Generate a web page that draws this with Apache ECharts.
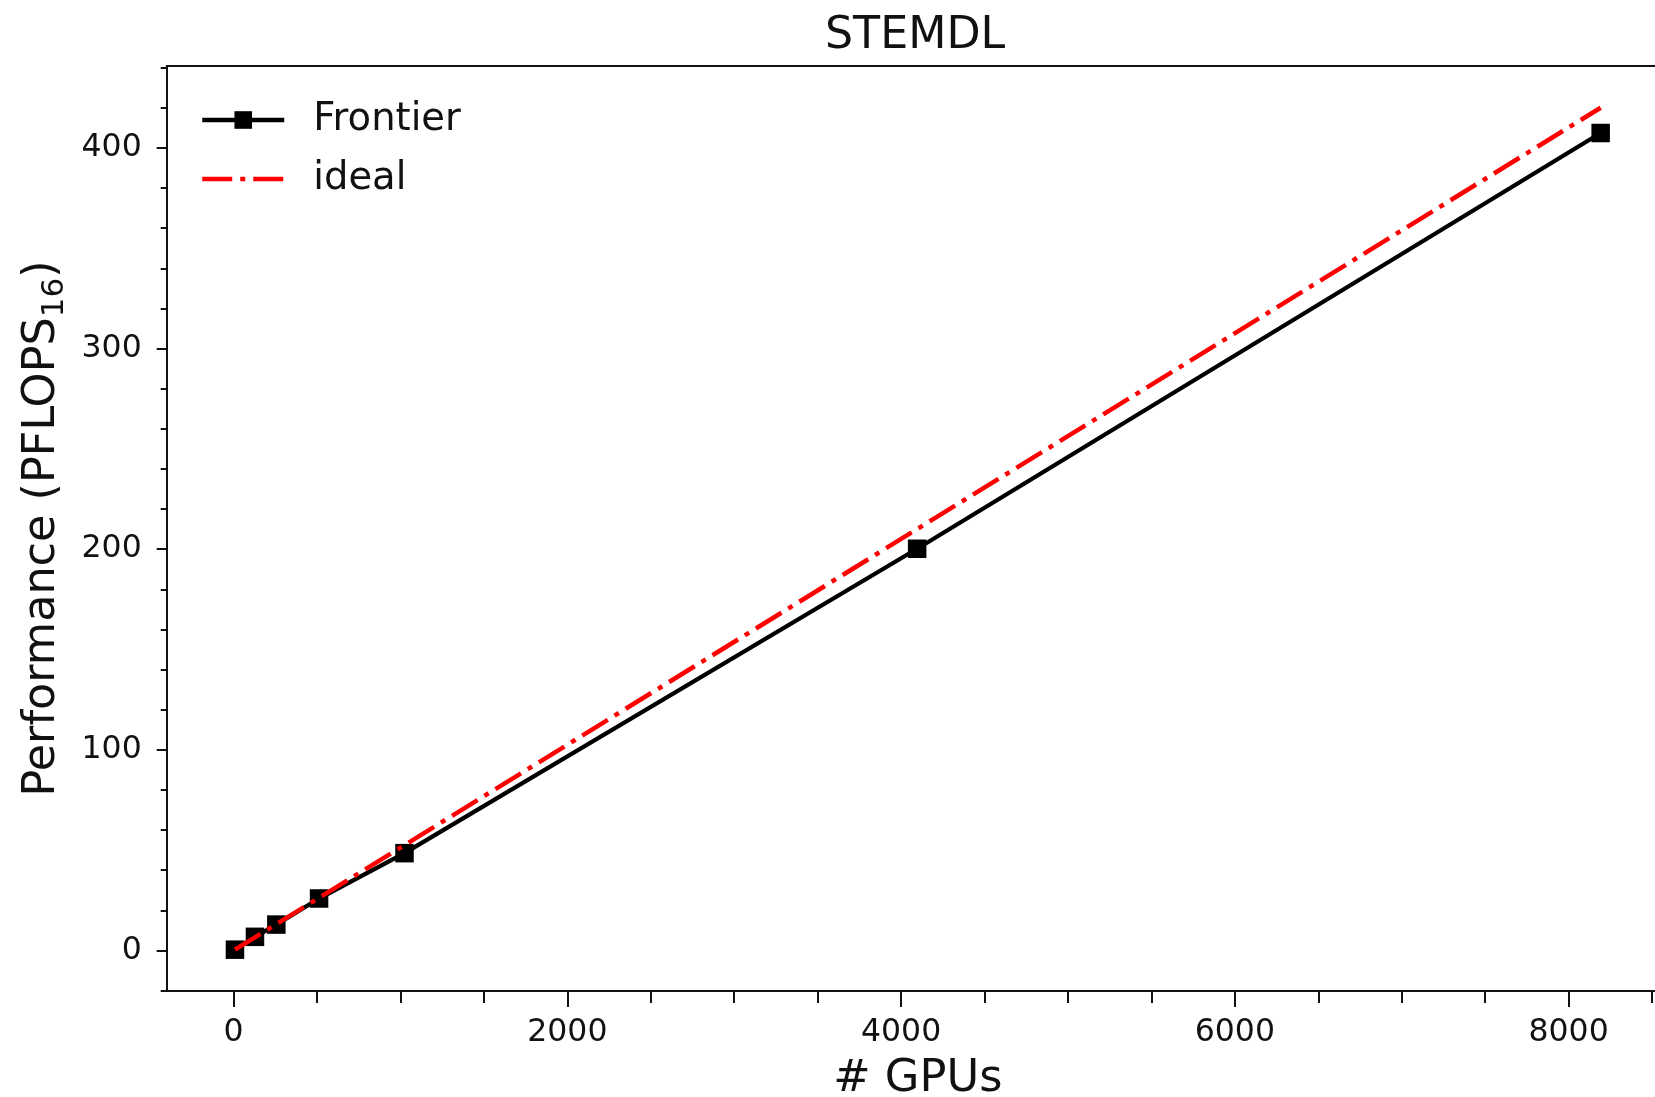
<!DOCTYPE html>
<html>
<head>
<meta charset="utf-8">
<script src="https://cdn.jsdelivr.net/npm/echarts@6/dist/echarts.min.js"></script>
<style>
html,body{margin:0;padding:0;background:#fff;}
#chart{width:1655px;height:1097px;}
</style>
</head>
<body>
<div id="chart"></div>
<script>
// ---- data ----
const gpus = [8, 128, 256, 512, 1024, 4096, 8192];
const frontier = [0.4, 6.8, 12.9, 25.9, 48.5, 200.2, 407.4];
const ideal = [0.41, 6.56, 13.13, 26.25, 52.5, 210, 420];
const xMajorTicks = [0, 2000, 4000, 6000, 8000];
const xMinorTicks = [500, 1000, 1500, 2500, 3000, 3500, 4500, 5000, 5500, 6500, 7000, 7500, 8500];
const yMajorTicks = [0, 100, 200, 300, 400];
const yMinorTicks = [-20, 20, 40, 60, 80, 120, 140, 160, 180, 220, 240, 260, 280, 320, 340, 360, 380, 420, 440];

const FONT = 'DejaVu Sans';
const INK = '#111';
const X_MIN = -401, X_MAX = 8601, Y_MIN = -20.2, Y_MAX = 440.8;
const IDEAL_DASH = [30, 8, 5, 8];

const chart = echarts.init(document.getElementById('chart'), null, {renderer: 'canvas'});

const plain = v => String(v);

const option = {
  animation: false,
  backgroundColor: '#fff',
  title: {
    text: 'STEMDL',
    left: 825, top: 14, padding: 0,
    textStyle: {fontFamily: FONT, fontSize: 44.3, fontWeight: 'normal', color: INK}
  },
  legend: {
    orient: 'vertical',
    left: 200, top: 100, padding: 0,
    itemWidth: 82, itemHeight: 22, itemGap: 19,
    data: [
      {name: 'Frontier', lineStyle: {color: '#000', width: 4.3}, itemStyle: {color: '#000'}},
      {name: 'ideal', lineStyle: {color: '#ff0000', width: 4.5, type: IDEAL_DASH}, itemStyle: {color: '#ff0000', opacity: 0}}
    ],
    textStyle: {fontFamily: FONT, fontSize: 38.5, color: INK, lineHeight: 40, padding: [0, 0, 0, 24]}
  },
  grid: {left: 166.7, top: 66, width: 1502.2, height: 925, containLabel: false, outerBoundsMode: 'none'},
  xAxis: [
    {
      type: 'value', min: X_MIN, max: X_MAX, position: 'bottom',
      name: '# GPUs', nameLocation: 'middle', nameGap: 66,
      nameTextStyle: {fontFamily: FONT, fontSize: 44.7, color: INK},
      splitLine: {show: false},
      axisLine: {show: true, onZero: false, lineStyle: {color: INK, width: 2}},
      axisTick: {show: true, length: 16, lineStyle: {color: INK, width: 2}, customValues: xMajorTicks},
      axisLabel: {show: true, fontFamily: FONT, fontSize: 31.5, color: INK, margin: 26, customValues: xMajorTicks, formatter: plain}
    },
    {
      type: 'value', min: X_MIN, max: X_MAX, position: 'bottom',
      splitLine: {show: false},
      axisLine: {show: false, onZero: false},
      axisTick: {show: true, length: 12, lineStyle: {color: INK, width: 2}, customValues: xMinorTicks},
      axisLabel: {show: false, customValues: xMinorTicks}
    },
    {
      type: 'value', min: X_MIN, max: X_MAX, position: 'top',
      splitLine: {show: false}, axisTick: {show: false}, axisLabel: {show: false},
      axisLine: {show: true, onZero: false, lineStyle: {color: INK, width: 2}}
    }
  ],
  yAxis: [
    {
      type: 'value', min: Y_MIN, max: Y_MAX, position: 'left',
      name: 'Performance (PFLOPS{sub|16})', nameLocation: 'middle', nameGap: 93, nameRotate: 90,
      nameTextStyle: {
        fontFamily: FONT, fontSize: 44.5, color: INK, lineHeight: 57,
        rich: {sub: {fontFamily: FONT, fontSize: 31, color: INK, lineHeight: 34, verticalAlign: 'bottom'}}
      },
      splitLine: {show: false},
      axisLine: {show: true, onZero: false, lineStyle: {color: INK, width: 2}},
      axisTick: {show: true, length: 10, lineStyle: {color: INK, width: 2}, customValues: yMajorTicks},
      axisLabel: {show: true, fontFamily: FONT, fontSize: 31.5, color: INK, margin: 25, customValues: yMajorTicks, formatter: plain}
    },
    {
      type: 'value', min: Y_MIN, max: Y_MAX, position: 'left',
      splitLine: {show: false},
      axisLine: {show: false, onZero: false},
      axisTick: {show: true, length: 6, lineStyle: {color: INK, width: 2}, customValues: yMinorTicks},
      axisLabel: {show: false, customValues: yMinorTicks}
    }
  ],
  series: [
    {
      name: 'Frontier', type: 'line', xAxisIndex: 0, yAxisIndex: 0,
      data: gpus.map((g, i) => [g, frontier[i]]),
      symbol: 'rect', symbolSize: 18.5, showSymbol: true,
      itemStyle: {color: '#000'},
      lineStyle: {color: '#000', width: 4.3},
      z: 2
    },
    {
      name: 'ideal', type: 'line', xAxisIndex: 0, yAxisIndex: 0,
      data: gpus.map((g, i) => [g, ideal[i]]),
      symbol: 'none',
      itemStyle: {color: '#ff0000'},
      lineStyle: {color: '#ff0000', width: 4.5, type: IDEAL_DASH},
      z: 3
    }
  ]
};
chart.setOption(option);
</script>
</body>
</html>
